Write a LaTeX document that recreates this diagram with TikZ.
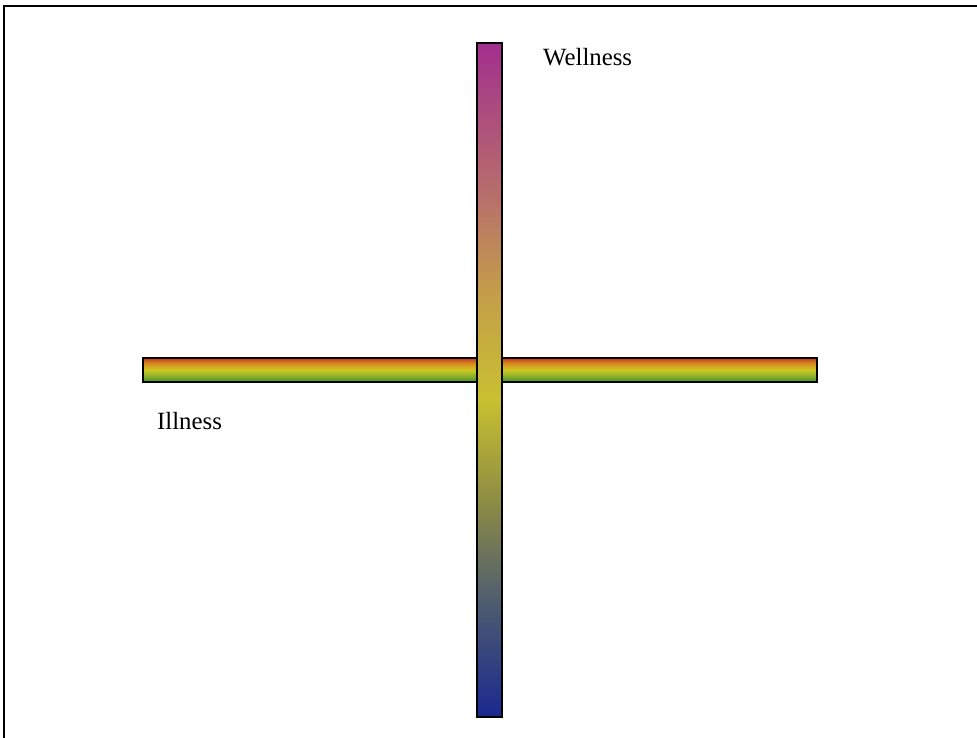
\documentclass[tikz,border=0pt]{standalone}
\usepackage{fontspec}
\setmainfont{Liberation Serif}
\usepackage{tikz}
\usetikzlibrary{positioning}
\definecolor{wellMagenta}{HTML}{A2308E}
\definecolor{wellRose}{HTML}{B8706A}
\definecolor{wellSand}{HTML}{C4A048}
\definecolor{wellYellow}{HTML}{C8C030}
\definecolor{wellOlive}{HTML}{8C8C44}
\definecolor{wellSlate}{HTML}{4E5C70}
\definecolor{wellBlue}{HTML}{1A2890}
\definecolor{illRed}{HTML}{C8381C}
\definecolor{illOrange}{HTML}{D88A20}
\definecolor{illYellow}{HTML}{CCC822}
\definecolor{illLime}{HTML}{90B028}
\definecolor{illGreen}{HTML}{3C9030}
\pgfdeclareverticalshading{wellnessaxis}{100bp}{%
  color(0bp)=(wellBlue); color(25bp)=(wellBlue);
  color(33.5bp)=(wellSlate); color(41bp)=(wellOlive);
  color(48.5bp)=(wellYellow); color(56bp)=(wellSand);
  color(63.5bp)=(wellRose); color(75bp)=(wellMagenta);
  color(100bp)=(wellMagenta)}
\pgfdeclareverticalshading{illnessaxis}{100bp}{%
  color(0bp)=(illGreen); color(25bp)=(illGreen);
  color(38bp)=(illLime); color(50bp)=(illYellow);
  color(64bp)=(illOrange); color(75bp)=(illRed);
  color(100bp)=(illRed)}

\begin{document}
\begin{tikzpicture}[
  x=1pt, y=-1pt,
  bar/.style={
    rectangle, draw=black, line width=2pt, inner sep=0pt,
    shading=#1,
  },
  label/.style={inner sep=0pt, anchor=base west, font=\fontsize{24.8}{29}\selectfont},
]
\useasboundingbox (0,0) rectangle (977,738);

% frame
\draw[line width=2.5pt] (4,745) -- (4,6) -- (985,6);

% axes
\node[bar=illnessaxis, minimum width=674pt, minimum height=24pt] (illbar) at (480,370) {};
\node[bar=wellnessaxis, minimum width=25pt, minimum height=674pt] (wellbar) at (489.5,380) {};

% labels
\node[label] (well) at (543,66) {Wellness};
\node[label] (ill) at (157,429) {Illness};

\end{tikzpicture}
\end{document}
